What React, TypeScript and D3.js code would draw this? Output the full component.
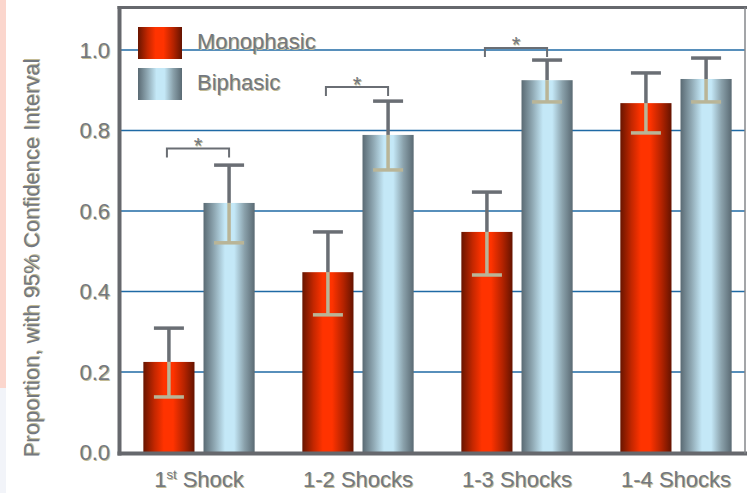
import * as d3 from "d3";

const categories = ["1st Shock", "1-2 Shocks", "1-3 Shocks", "1-4 Shocks"];
const series = ["Monophasic", "Biphasic"];

// proportions with 95% CI
const monoValues = [0.225, 0.448, 0.548, 0.868];
const monoLow = [0.138, 0.342, 0.441, 0.794];
const monoHigh = [0.309, 0.548, 0.647, 0.943];
const biValues = [0.62, 0.789, 0.925, 0.928];
const biLow = [0.521, 0.702, 0.871, 0.871];
const biHigh = [0.714, 0.873, 0.975, 0.98];

// height of the "*" significance bracket per group (null = none)
const sigLevels: (number | null)[] = [0.755, 0.908, 1.005, null];

const yTicks = [0, 0.2, 0.4, 0.6, 0.8, 1.0];

const W = 747;
const H = 493;
const FONT = "'Liberation Sans', Arial, sans-serif";
const TEXT = "#737880";
const SHADOW = "#c4bc95";
const FRAME = "#66686d";
const GRID = "#1f6aa5";
const ERR_UP = "#6a6e74";
const ERR_DOWN = "#b9b597";

const plotLeft = 121;
const plotRight = 745;
const plotTop = 7.5;
const plotBottom = 453.5;

function ShadowText(props: {
  x: number;
  y: number;
  anchor?: string;
  size?: number;
  transform?: string;
  children: React.ReactNode;
}) {
  const { x, y, anchor = "start", size = 22, transform, children } = props;
  return (
    <g transform={transform} fontFamily={FONT} fontSize={size} textAnchor={anchor}>
      <text x={x + 1} y={y + 1} fill={SHADOW}>
        {children}
      </text>
      <text x={x} y={y} fill={TEXT}>
        {children}
      </text>
    </g>
  );
}

export default function App() {
  const y = d3.scaleLinear().domain([0, 1]).range([452.5, 50]);

  const x0 = d3
    .scaleBand<string>()
    .domain(categories)
    .range([119.5, 755.5])
    .paddingInner(0.3)
    .paddingOuter(0.15);

  const x1 = d3
    .scaleBand<string>()
    .domain(series)
    .range([0, x0.bandwidth()])
    .paddingInner(0.15);

  const rows = categories.map((c, i) => ({
    cat: c,
    bars: [
      { s: series[0], v: monoValues[i], lo: monoLow[i], hi: monoHigh[i] },
      { s: series[1], v: biValues[i], lo: biLow[i], hi: biHigh[i] },
    ],
    sig: sigLevels[i],
  }));

  const bw = x1.bandwidth();
  const capW = 30;
  const fillFor = (s: string) => (s === "Monophasic" ? "url(#gMono)" : "url(#gBi)");

  return (
    <svg
      width={W}
      height={H}
      viewBox={`0 0 ${W} ${H}`}
      style={{ position: "absolute", left: 0, top: 0, background: "#fff" }}
    >
      <defs>
        <linearGradient id="gMono" x1="0" x2="1" y1="0" y2="0">
          <stop offset="0%" stopColor="#681500" />
          <stop offset="22%" stopColor="#c42700" />
          <stop offset="40%" stopColor="#ff3300" />
          <stop offset="58%" stopColor="#ff3300" />
          <stop offset="80%" stopColor="#b52300" />
          <stop offset="100%" stopColor="#641300" />
        </linearGradient>
        <linearGradient id="gBi" x1="0" x2="1" y1="0" y2="0">
          <stop offset="0%" stopColor="#5a6a73" />
          <stop offset="22%" stopColor="#91aab5" />
          <stop offset="42%" stopColor="#c4e8f7" />
          <stop offset="60%" stopColor="#c4e8f7" />
          <stop offset="80%" stopColor="#8aa1ab" />
          <stop offset="100%" stopColor="#5a6a73" />
        </linearGradient>
      </defs>

      {/* slide remnants on the left edge */}
      <rect x={0} y={0} width={6} height={388} fill="#fbd6cd" />
      <rect x={0} y={388} width={6} height={H - 388} fill="#f2f4f9" />

      {/* grid */}
      <g stroke={GRID} strokeWidth={1.5}>
        {yTicks
          .filter((t) => t > 0)
          .map((t) => (
            <line key={t} x1={plotLeft} x2={plotRight} y1={y(t)} y2={y(t)} />
          ))}
      </g>

      {/* bars */}
      {rows.map((r) => (
        <g key={r.cat} transform={`translate(${x0(r.cat)},0)`}>
          {r.bars.map((b) => (
            <rect
              key={b.s}
              x={x1(b.s)}
              y={y(b.v)}
              width={bw}
              height={y(0) - y(b.v)}
              fill={fillFor(b.s)}
            />
          ))}
        </g>
      ))}

      {/* error bars: upper half dark, lower half tan */}
      {rows.map((r) => (
        <g key={r.cat + "-err"} transform={`translate(${x0(r.cat)},0)`} strokeWidth={3.5}>
          {r.bars.map((b) => {
            const cx = (x1(b.s) ?? 0) + bw / 2;
            return (
              <g key={b.s}>
                <line x1={cx} x2={cx} y1={y(b.hi)} y2={y(b.v)} stroke={ERR_UP} />
                <line x1={cx - capW / 2} x2={cx + capW / 2} y1={y(b.hi)} y2={y(b.hi)} stroke={ERR_UP} />
                <line x1={cx} x2={cx} y1={y(b.v)} y2={y(b.lo)} stroke={ERR_DOWN} />
                <line x1={cx - capW / 2} x2={cx + capW / 2} y1={y(b.lo)} y2={y(b.lo)} stroke={ERR_DOWN} />
              </g>
            );
          })}
        </g>
      ))}

      {/* significance brackets */}
      {rows
        .filter((r) => r.sig !== null)
        .map((r) => {
          const base = x0(r.cat) ?? 0;
          const a = base + (x1(series[0]) ?? 0) + bw / 2 - 2;
          const b = base + (x1(series[1]) ?? 0) + bw / 2;
          const by = y(r.sig as number);
          return (
            <g key={r.cat + "-sig"}>
              <path
                d={`M${a},${by + 9}V${by}H${b}V${by + 9}`}
                fill="none"
                stroke={ERR_UP}
                strokeWidth={2}
              />
              <ShadowText x={(a + b) / 2} y={by + 4.5} anchor="middle" size={22}>
                *
              </ShadowText>
            </g>
          );
        })}

      {/* frame */}
      <line x1={plotLeft - 1.5} x2={plotLeft - 1.5} y1={plotTop - 1.5} y2={plotBottom + 2} stroke={FRAME} strokeWidth={4} />
      <line x1={plotLeft - 3.5} x2={W} y1={plotTop} y2={plotTop} stroke={FRAME} strokeWidth={3} />
      <line x1={plotLeft - 3.5} x2={W} y1={plotBottom} y2={plotBottom} stroke={FRAME} strokeWidth={4} />
      <line x1={plotRight} x2={plotRight} y1={plotTop} y2={plotBottom} stroke="#85878b" strokeWidth={1.5} />

      {/* y tick labels */}
      {yTicks.map((t) => (
        <ShadowText key={t} x={110} y={y(t) + 7.5} anchor="end">
          {d3.format(".1f")(t)}
        </ShadowText>
      ))}

      {/* y title */}
      <ShadowText x={0} y={0} anchor="middle" transform="translate(38.5,258) rotate(-90)">
        Proportion, with 95% Confidence Interval
      </ShadowText>

      {/* x labels */}
      {categories.map((c) => {
        const cx = (x0(c) ?? 0) + x0.bandwidth() / 2;
        const m = c.match(/^1st (.*)$/);
        return (
          <ShadowText key={c} x={cx} y={487} anchor="middle">
            {m ? (
              <>
                1
                <tspan fontSize={13} dy={-8}>
                  st
                </tspan>
                <tspan dy={8}> {m[1]}</tspan>
              </>
            ) : (
              c
            )}
          </ShadowText>
        );
      })}

      {/* legend */}
      {series.map((s, i) => (
        <g key={s} transform={`translate(138,${27 + i * 41})`}>
          <rect width={44} height={32} fill={fillFor(s)} />
          <ShadowText x={59} y={22}>
            {s}
          </ShadowText>
        </g>
      ))}
    </svg>
  );
}
